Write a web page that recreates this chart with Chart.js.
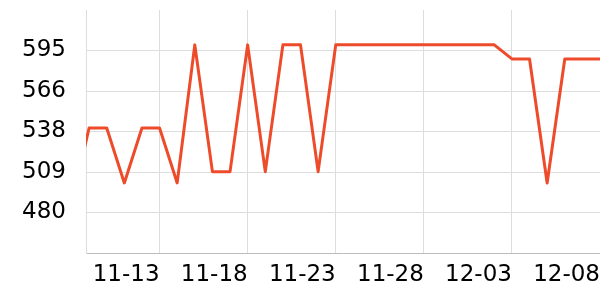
<!DOCTYPE html>
<html>
<head>
<meta charset="utf-8">
<script src="https://cdn.jsdelivr.net/npm/chart.js@4"></script>
<style>
  html, body { margin: 0; padding: 0; background: #fff; }
  #wrap { width: 600px; height: 300px; }
</style>
</head>
<body>
<div id="wrap"><canvas id="myChart"></canvas></div>
<script>
// one value per day, 11-08 .. 12-08
const dates = ['11-08','11-09','11-10','11-11','11-12','11-13','11-14','11-15','11-16','11-17',
  '11-18','11-19','11-20','11-21','11-22','11-23','11-24','11-25','11-26','11-27',
  '11-28','11-29','11-30','12-01','12-02','12-03','12-04','12-05','12-06','12-07','12-08']
const values = [486, 540, 540, 501, 540, 540, 501, 599, 509, 509,
  599, 509, 599, 599, 509, 599, 599, 599, 599, 599,
  599, 599, 599, 599, 599, 589, 589, 501, 589, 589, 589]
const xTickLabels = ['11-13','11-18','11-23','11-28','12-03','12-08']
const yTicks = [480, 508.75, 537.5, 566.25, 595]

let points = values.map((v, i) => ({x: i, y: v}))
let xTickIdx = xTickLabels.map(l => dates.indexOf(l))

function noPad(s) {
    s.paddingTop = 0
    s.paddingBottom = 0
    s.paddingLeft = 0
    s.paddingRight = 0
}

const ctx = document.getElementById('myChart')
const myChart = new Chart(ctx, {
    type: 'line',
    data: {
        datasets: [{
            data: points,
            borderColor: '#ee4b2b',
            borderWidth: 3,
            borderJoinStyle: 'round',
            pointRadius: 0,
            tension: 0
        }]
    },
    options: {
        responsive: true,
        maintainAspectRatio: false,
        animation: false,
        layout: { padding: { top: 10, right: 0, left: 0, bottom: 0 } },
        plugins: { legend: { display: false }, tooltip: { enabled: false } },
        scales: {
            x: {
                type: 'linear',
                min: 0.824,
                max: 30,
                afterBuildTicks: (s) => { s.ticks = xTickIdx.map(v => ({value: v})) },
                afterFit: (s) => { s.height = 47; noPad(s) },
                grid: { color: '#dddddd', drawTicks: false },
                border: { color: '#bbbbbb' },
                ticks: {
                    align: 'end',
                    padding: 8,
                    maxRotation: 0,
                    color: '#000',
                    font: { family: 'DejaVu Sans', size: 23 },
                    callback: (v) => dates[v] || ''
                }
            },
            y: {
                min: 451.25,
                max: 623.75,
                afterBuildTicks: (s) => { s.ticks = yTicks.map(v => ({value: v})) },
                afterFit: (s) => { s.width = 86; noPad(s) },
                grid: { color: '#dddddd', drawTicks: false },
                border: { color: '#dddddd' },
                ticks: {
                    padding: 20,
                    color: '#000',
                    font: { family: 'DejaVu Sans', size: 23 },
                    callback: (v) => Math.round(v)
                }
            }
        }
    }
})
</script>
</body>
</html>
